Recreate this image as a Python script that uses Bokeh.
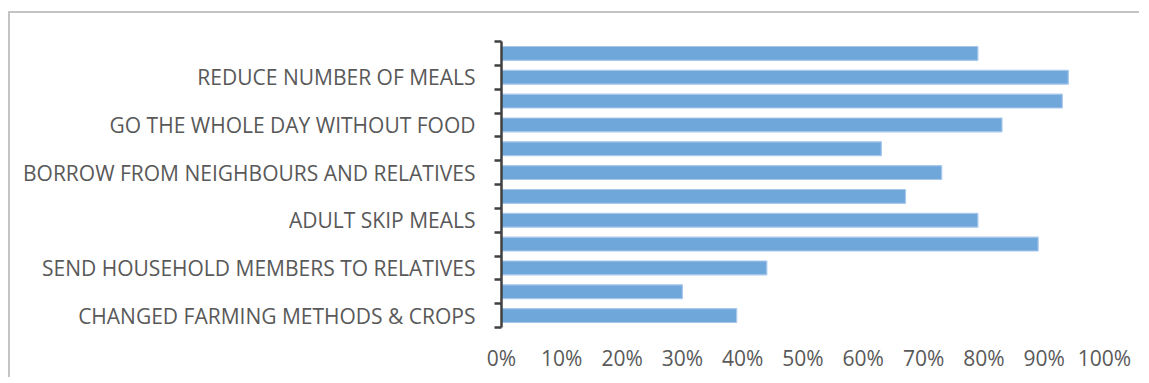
from bokeh.plotting import figure
from bokeh.models import Range1d, FixedTicker, ColumnDataSource
from bokeh.embed import file_html
from bokeh.resources import INLINE

# Values listed from bottom bar to top bar (fraction of households)
values = [0.39, 0.30, 0.44, 0.89, 0.79, 0.67, 0.73, 0.63, 0.83, 0.93, 0.94, 0.79]
# Visible category labels (every other bar, from the bottom)
label_index = [0, 2, 4, 6, 8, 10]
labels = [
    "CHANGED FARMING METHODS & CROPS",
    "SEND HOUSEHOLD MEMBERS TO RELATIVES",
    "ADULT SKIP MEALS",
    "BORROW FROM NEIGHBOURS AND RELATIVES",
    "GO THE WHOLE DAY WITHOUT FOOD",
    "REDUCE NUMBER OF MEALS",
]
x_ticks = [0, 0.1, 0.2, 0.3, 0.4, 0.5, 0.6, 0.7, 0.8, 0.9, 1.0]
x_tick_labels = ["0%", "10%", "20%", "30%", "40%", "50%", "60%", "70%", "80%", "90%", "100%"]

n = len(values)
src = ColumnDataSource(dict(y=[i + 0.5 for i in range(n)], v=values))

p = figure(width=1131, height=366, output_backend="svg", toolbar_location=None,
           x_range=Range1d(0, 1.0), y_range=Range1d(0, n),
           min_border_left=491, min_border_right=37, min_border_top=28, min_border_bottom=52)
p.styles = {"border-left": "2px solid #c4c4c4", "border-top": "2px solid #c4c4c4",
            "margin-top": "11px", "margin-left": "8px"}

p.hbar(y="y", right="v", left=0, height=0.58, source=src,
       fill_color="#70A7DB", line_color="#A9C9EC", line_width=1.2)

p.outline_line_color = None
p.xgrid.grid_line_color = None
p.ygrid.grid_line_color = None
p.background_fill_color = "white"
p.border_fill_color = "white"

font = "Open Sans"
# y axis
yt = FixedTicker(ticks=[i + 0.5 for i in label_index], minor_ticks=list(range(n + 1)))
p.yaxis.ticker = yt
p.yaxis.major_label_overrides = {i + 0.5: lab for i, lab in zip(label_index, labels)}
p.yaxis.major_tick_out = 0
p.yaxis.major_tick_in = 0
p.yaxis.minor_tick_out = 7
p.yaxis.minor_tick_in = 0
p.yaxis.minor_tick_line_color = "#404040"
p.yaxis.minor_tick_line_width = 2.5
p.yaxis.axis_line_color = "#404040"
p.yaxis.axis_line_width = 2.5
p.yaxis.major_label_standoff = 19
p.yaxis.major_label_text_font = font
p.yaxis.major_label_text_font_size = "21px"
p.yaxis.major_label_text_color = "#595959"

# x axis
p.xaxis.ticker = FixedTicker(ticks=x_ticks)
p.xaxis.major_label_overrides = {t: l for t, l in zip(x_ticks, x_tick_labels)}
p.xaxis.axis_line_color = None
p.xaxis.major_tick_line_color = None
p.xaxis.minor_tick_line_color = None
p.xaxis.major_tick_out = 0
p.xaxis.major_label_standoff = 16
p.xaxis.major_label_text_font = font
p.xaxis.major_label_text_font_size = "21px"
p.xaxis.major_label_text_color = "#595959"

open("out.html", "w").write(file_html(p, INLINE))
